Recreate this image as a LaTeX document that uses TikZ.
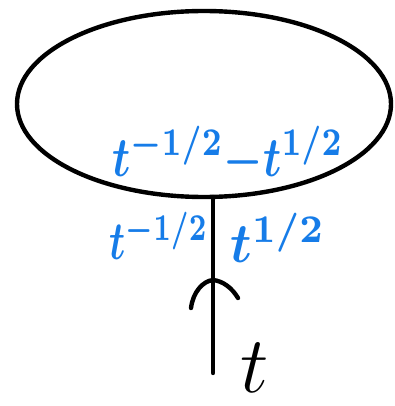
\documentclass[tikz,border=0pt]{standalone}
\usepackage{fix-cm}
\usepackage{xcolor}
\definecolor{penblue}{RGB}{22,124,232}
\tikzset{
  ink/.style={line width=4.4pt, line cap=round, line join=round, black},
  bluelabel/.style={text=penblue, inner sep=0pt, font=\boldmath},
  blacklabel/.style={text=black, inner sep=0pt, font=\fontsize{80}{80}\selectfont}
}
\begin{document}
\begin{tikzpicture}[x=1pt,y=-1pt]
\useasboundingbox (0,0) rectangle (394,406);
% loop
\draw[ink] (204,104) ellipse [x radius=187pt, y radius=93pt];
% stem
\coordinate (top) at (213,197);
\coordinate (bottom) at (213,373);
\coordinate (apex) at (213,280);
\coordinate (wl) at (191,308);
\coordinate (wr) at (238,298);
\draw[ink] (top) -- (bottom);
\draw[ink] (wl) .. controls (193,292) and (203,281) .. (apex) .. controls (223,281) and (232,288) .. (wr);
% labels
\node[bluelabel, xscale=4.4, yscale=5.6] (inner) at (228,155) {$t^{-1/2}{-}t^{1/2}$};
\node[bluelabel, xscale=3.9, yscale=5.4] (left) at (159,236) {$t^{-1/2}$};
\node[bluelabel, xscale=5.2, yscale=5.6] (right) at (278,238) {$t^{1/2}$};
\node[blacklabel] (tlab) at (255,368) {$t$};
\end{tikzpicture}
\end{document}
